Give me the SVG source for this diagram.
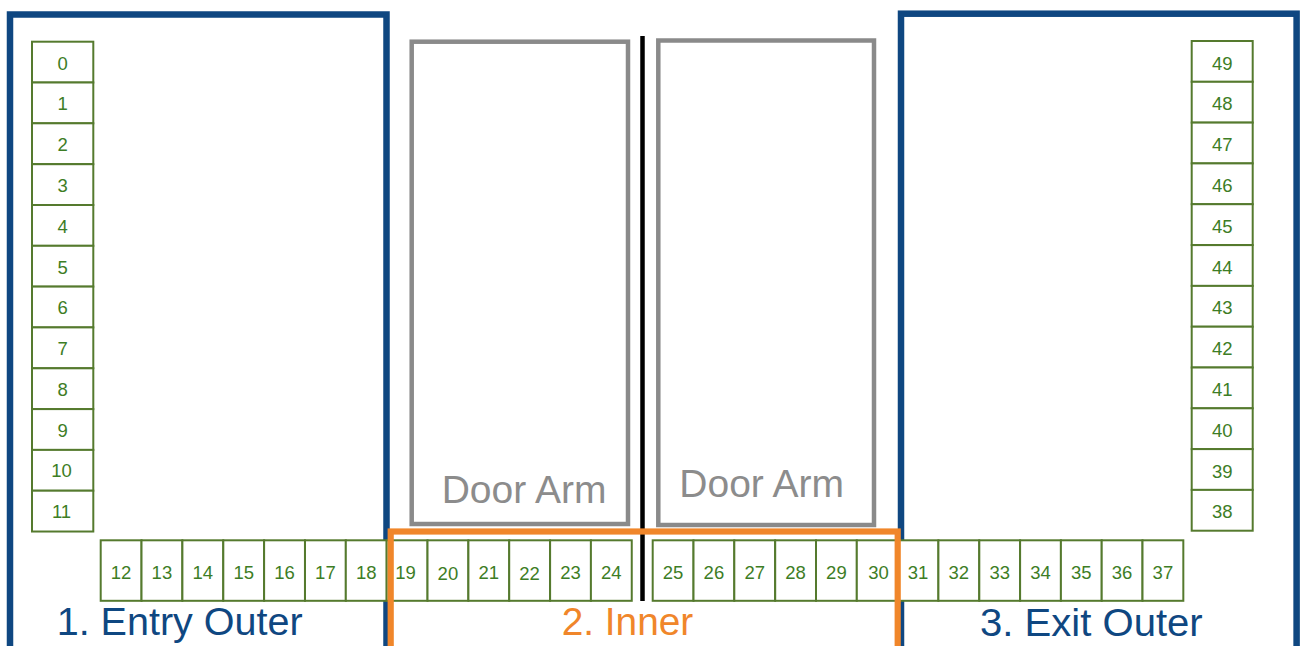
<svg xmlns="http://www.w3.org/2000/svg" width="1303" height="646" viewBox="0 0 1303 646">
<style>
.zone{fill:none;stroke:#0f4781;stroke-width:6.5}
.inner{fill:none;stroke:#f0862a;stroke-width:6.2}
.arm{fill:none;stroke:#8a8a8a;stroke-width:4.5}
.cell{fill:#fff;stroke:#557a2e;stroke-width:2}
.num{font-family:"Liberation Sans",Arial,sans-serif;font-size:18.5px;fill:#3d7d25;text-anchor:middle}
.big{font-family:"Liberation Sans",Arial,sans-serif;font-size:38px}
.armt{font-family:"Liberation Sans",Arial,sans-serif;font-size:39px;fill:#8c8c8c}
</style>
<rect width="1303" height="646" fill="#fff"/>
<g id="zone-entry-outer">
<rect class="zone" x="10" y="14.5" width="376.5" height="700"/>
<text class="big" x="56.7" y="635" fill="#0f4781" textLength="246" lengthAdjust="spacingAndGlyphs">1. Entry Outer</text>
</g>
<g id="zone-exit-outer">
<rect class="zone" x="901" y="13.7" width="395.6" height="700"/>
<text class="big" x="980" y="635.5" fill="#0f4781" textLength="222.7" lengthAdjust="spacingAndGlyphs">3. Exit Outer</text>
</g>
<g id="door-arm-left">
<rect class="arm" x="411.7" y="41.7" width="216.3" height="482.3"/>
<text class="armt" x="441.7" y="503.3">Door Arm</text>
</g>
<g id="door-arm-right">
<rect class="arm" x="658.3" y="40.5" width="215.7" height="484.5"/>
<text class="armt" x="679.3" y="496.7">Door Arm</text>
</g>
<g id="divider">
<line x1="642.5" y1="36" x2="642.5" y2="601" stroke="#000" stroke-width="4.5"/>
</g>
<g id="cells-left-column">
<g id="cell-0"><rect class="cell" x="32" y="41.7" width="61.3" height="40.82"/><text class="num" x="62.7" y="69.5">0</text></g>
<g id="cell-1"><rect class="cell" x="32" y="82.5" width="61.3" height="40.82"/><text class="num" x="62.7" y="110.3">1</text></g>
<g id="cell-2"><rect class="cell" x="32" y="123.3" width="61.3" height="40.82"/><text class="num" x="62.7" y="151.1">2</text></g>
<g id="cell-3"><rect class="cell" x="32" y="164.2" width="61.3" height="40.82"/><text class="num" x="62.7" y="192">3</text></g>
<g id="cell-4"><rect class="cell" x="32" y="205" width="61.3" height="40.82"/><text class="num" x="62.7" y="232.8">4</text></g>
<g id="cell-5"><rect class="cell" x="32" y="245.8" width="61.3" height="40.82"/><text class="num" x="62.7" y="273.6">5</text></g>
<g id="cell-6"><rect class="cell" x="32" y="286.6" width="61.3" height="40.82"/><text class="num" x="62.7" y="314.4">6</text></g>
<g id="cell-7"><rect class="cell" x="32" y="327.4" width="61.3" height="40.82"/><text class="num" x="62.7" y="355.2">7</text></g>
<g id="cell-8"><rect class="cell" x="32" y="368.3" width="61.3" height="40.82"/><text class="num" x="62.7" y="396.1">8</text></g>
<g id="cell-9"><rect class="cell" x="32" y="409.1" width="61.3" height="40.82"/><text class="num" x="62.7" y="436.9">9</text></g>
<g id="cell-10"><rect class="cell" x="32" y="449.9" width="61.3" height="40.82"/><text class="num" x="61.5" y="477.2">10</text></g>
<g id="cell-11"><rect class="cell" x="32" y="490.7" width="61.3" height="40.82"/><text class="num" x="61.5" y="518">11</text></g>
</g>
<g id="cells-right-column">
<g id="cell-49"><rect class="cell" x="1191.7" y="41" width="61" height="40.81"/><text class="num" x="1222.2" y="69.5">49</text></g>
<g id="cell-48"><rect class="cell" x="1191.7" y="81.8" width="61" height="40.81"/><text class="num" x="1222.2" y="110.3">48</text></g>
<g id="cell-47"><rect class="cell" x="1191.7" y="122.6" width="61" height="40.81"/><text class="num" x="1222.2" y="151.1">47</text></g>
<g id="cell-46"><rect class="cell" x="1191.7" y="163.4" width="61" height="40.81"/><text class="num" x="1222.2" y="191.9">46</text></g>
<g id="cell-45"><rect class="cell" x="1191.7" y="204.2" width="61" height="40.81"/><text class="num" x="1222.2" y="232.7">45</text></g>
<g id="cell-44"><rect class="cell" x="1191.7" y="245.1" width="61" height="40.81"/><text class="num" x="1222.2" y="273.6">44</text></g>
<g id="cell-43"><rect class="cell" x="1191.7" y="285.9" width="61" height="40.81"/><text class="num" x="1222.2" y="314.4">43</text></g>
<g id="cell-42"><rect class="cell" x="1191.7" y="326.7" width="61" height="40.81"/><text class="num" x="1222.2" y="355.2">42</text></g>
<g id="cell-41"><rect class="cell" x="1191.7" y="367.5" width="61" height="40.81"/><text class="num" x="1222.2" y="396">41</text></g>
<g id="cell-40"><rect class="cell" x="1191.7" y="408.3" width="61" height="40.81"/><text class="num" x="1222.2" y="436.8">40</text></g>
<g id="cell-39"><rect class="cell" x="1191.7" y="449.1" width="61" height="40.81"/><text class="num" x="1222.2" y="477.6">39</text></g>
<g id="cell-38"><rect class="cell" x="1191.7" y="489.9" width="61" height="40.81"/><text class="num" x="1222.2" y="518.4">38</text></g>
</g>
<g id="cells-bottom-row">
<g id="cell-12"><rect class="cell" x="100.7" y="540.3" width="40.85" height="60.5"/><text class="num" x="121.1" y="578.8">12</text></g>
<g id="cell-13"><rect class="cell" x="141.5" y="540.3" width="40.85" height="60.5"/><text class="num" x="161.9" y="578.8">13</text></g>
<g id="cell-14"><rect class="cell" x="182.4" y="540.3" width="40.85" height="60.5"/><text class="num" x="202.8" y="578.8">14</text></g>
<g id="cell-15"><rect class="cell" x="223.3" y="540.3" width="40.85" height="60.5"/><text class="num" x="243.7" y="578.8">15</text></g>
<g id="cell-16"><rect class="cell" x="264.1" y="540.3" width="40.85" height="60.5"/><text class="num" x="284.5" y="578.8">16</text></g>
<g id="cell-17"><rect class="cell" x="305" y="540.3" width="40.85" height="60.5"/><text class="num" x="325.4" y="578.8">17</text></g>
<g id="cell-18"><rect class="cell" x="345.8" y="540.3" width="40.85" height="60.5"/><text class="num" x="366.2" y="578.8">18</text></g>
<g id="cell-19"><rect class="cell" x="386.7" y="540.3" width="40.85" height="60.5"/><text class="num" x="405.5" y="578.8">19</text></g>
<g id="cell-20"><rect class="cell" x="427.5" y="540.3" width="40.85" height="60.5"/><text class="num" x="447.9" y="579.5">20</text></g>
<g id="cell-21"><rect class="cell" x="468.4" y="540.3" width="40.85" height="60.5"/><text class="num" x="488.8" y="578.8">21</text></g>
<g id="cell-22"><rect class="cell" x="509.2" y="540.3" width="40.85" height="60.5"/><text class="num" x="529.6" y="579.5">22</text></g>
<g id="cell-23"><rect class="cell" x="550.1" y="540.3" width="40.85" height="60.5"/><text class="num" x="570.5" y="578.8">23</text></g>
<g id="cell-24"><rect class="cell" x="590.9" y="540.3" width="40.85" height="60.5"/><text class="num" x="611.3" y="578.8">24</text></g>
<g id="cell-25"><rect class="cell" x="652.7" y="540.3" width="40.82" height="60.5"/><text class="num" x="673.1" y="579.3">25</text></g>
<g id="cell-26"><rect class="cell" x="693.5" y="540.3" width="40.82" height="60.5"/><text class="num" x="713.9" y="579.3">26</text></g>
<g id="cell-27"><rect class="cell" x="734.3" y="540.3" width="40.82" height="60.5"/><text class="num" x="754.7" y="579.3">27</text></g>
<g id="cell-28"><rect class="cell" x="775.2" y="540.3" width="40.82" height="60.5"/><text class="num" x="795.6" y="579.3">28</text></g>
<g id="cell-29"><rect class="cell" x="816" y="540.3" width="40.82" height="60.5"/><text class="num" x="836.4" y="579.3">29</text></g>
<g id="cell-30"><rect class="cell" x="856.8" y="540.3" width="40.82" height="60.5"/><text class="num" x="878.5" y="579.3">30</text></g>
<g id="cell-31"><rect class="cell" x="897.6" y="540.3" width="40.82" height="60.5"/><text class="num" x="918" y="578.5">31</text></g>
<g id="cell-32"><rect class="cell" x="938.4" y="540.3" width="40.82" height="60.5"/><text class="num" x="958.8" y="579.3">32</text></g>
<g id="cell-33"><rect class="cell" x="979.3" y="540.3" width="40.82" height="60.5"/><text class="num" x="999.7" y="579.3">33</text></g>
<g id="cell-34"><rect class="cell" x="1020.1" y="540.3" width="40.82" height="60.5"/><text class="num" x="1040.5" y="579.3">34</text></g>
<g id="cell-35"><rect class="cell" x="1060.9" y="540.3" width="40.82" height="60.5"/><text class="num" x="1081.3" y="579.3">35</text></g>
<g id="cell-36"><rect class="cell" x="1101.7" y="540.3" width="40.82" height="60.5"/><text class="num" x="1122.1" y="579.3">36</text></g>
<g id="cell-37"><rect class="cell" x="1142.5" y="540.3" width="40.82" height="60.5"/><text class="num" x="1162.9" y="579.3">37</text></g>
</g>
<g id="zone-inner">
<rect class="inner" x="390.7" y="531.5" width="507" height="200"/>
<text class="big" x="561.7" y="635" fill="#f0862a" textLength="131.6" lengthAdjust="spacingAndGlyphs">2. Inner</text>
</g>
<g id="connectors"></g>
</svg>
